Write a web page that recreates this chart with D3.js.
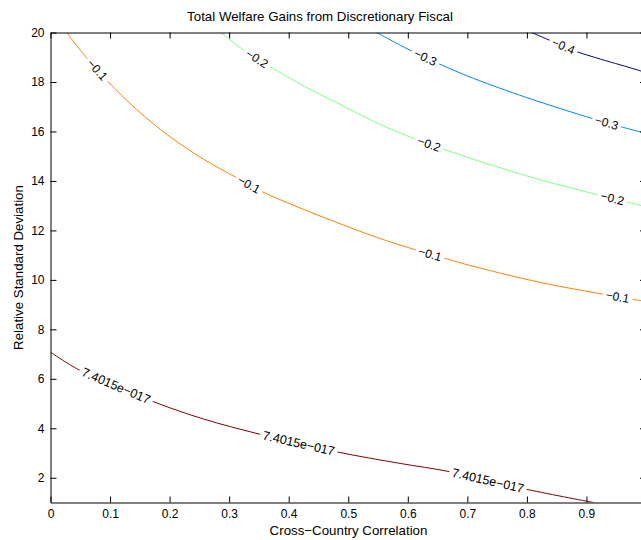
<!DOCTYPE html>
<html>
<head>
<meta charset="utf-8">
<script src="https://cdn.jsdelivr.net/npm/d3@7"></script>
<style>
  body { margin: 0; background: #fff; }
  svg { display: block; font-family: "Liberation Sans", Arial, Helvetica, sans-serif; }
  .axis text { font-size: 12px; fill: #000; }
  .axis path, .axis line { stroke: #000; }
</style>
</head>
<body>
<div id="chart"></div>
<script>
const w = 641;
const h = 540;

const xTicks = [0, 0.1, 0.2, 0.3, 0.4, 0.5, 0.6, 0.7, 0.8, 0.9, 1];
const yTicks = [2, 4, 6, 8, 10, 12, 14, 16, 18, 20];

const levels = [0, -0.1, -0.2, -0.3, -0.4];
const levelText = ['7.4015e\u2212017', '\u22120.1', '\u22120.2', '\u22120.3', '\u22120.4'];

// contour lines, [correlation, relative std dev]
const contour0 = [[0, 7.08], [0.048, 6.36], [0.1724, 5.08], [0.2563, 4.38], [0.3516, 3.76],
  [0.4821, 3.04], [0.5871, 2.58], [0.6694, 2.25], [0.7999, 1.53], [0.9118, 1.0]];
const contour1 = [[0.0269, 20.0], [0.0605, 18.98], [0.0968, 18.01], [0.1445, 16.89], [0.2004, 15.79],
  [0.2563, 14.89], [0.3124, 14.13], [0.3544, 13.58], [0.4188, 12.91], [0.486, 12.27],
  [0.5476, 11.72], [0.6148, 11.2], [0.6595, 10.89], [0.7099, 10.55], [0.8219, 9.9],
  [0.9283, 9.42], [0.976, 9.22], [1.0, 9.13]];
const contour2 = [[0.2861, 20.0], [0.3264, 19.25], [0.3672, 18.64], [0.43, 17.78], [0.486, 17.1],
  [0.5476, 16.35], [0.6148, 15.67], [0.6568, 15.31], [0.738, 14.66], [0.8219, 14.05],
  [0.9227, 13.42], [0.9647, 13.17], [1.0, 12.96]];
const contour3 = [[0.5476, 20.0], [0.6064, 19.25], [0.6528, 18.73], [0.7099, 18.15], [0.7996, 17.37],
  [0.9115, 16.51], [0.9563, 16.2], [1.0, 15.92]];
const contour4 = [[0.808, 20.0], [0.8416, 19.65], [0.8807, 19.25], [0.9916, 18.44], [1.0, 18.36]];

// where the in-line labels sit (correlation value)
const labels0 = [0.1102, 0.4169, 0.7346];
const labels1 = [0.0787, 0.3334, 0.6372, 0.9522];
const labels2 = [0.3468, 0.6358, 0.9437];
const labels3 = [0.6296, 0.9339];
const labels4 = [0.8612];

const contours = [contour0, contour1, contour2, contour3, contour4];
const labelSpots = [labels0, labels1, labels2, labels3, labels4];

const color = d3.scaleOrdinal()
  .domain(levels)
  .range(['#800000', '#ff8000', '#80ff80', '#0080ff', '#000088']);

const pLeft = 50.5, pRight = 646, pTop = 32.5, pBottom = 502.5;

const xScale = d3.scaleLinear().domain([0, 1]).range([pLeft, pRight]);
const yScale = d3.scaleLinear().domain([1, 20]).range([pBottom, pTop]);

const svg = d3.select('#chart').append('svg').attr('width', w).attr('height', h);

svg.append('defs').append('clipPath').attr('id', 'plot')
  .append('rect').attr('x', pLeft).attr('y', pTop).attr('width', pRight - pLeft).attr('height', pBottom - pTop);

const line = d3.line()
  .x(d => xScale(d[0]))
  .y(d => yScale(d[1]))
  .curve(d3.curveCatmullRom.alpha(0.5));

const plot = svg.append('g').attr('clip-path', 'url(#plot)');

contours.forEach((c, i) => {
  plot.append('path')
    .attr('d', line(c))
    .attr('fill', 'none')
    .attr('stroke', color(levels[i]))
    .attr('stroke-width', 1);
});

// labels: place on the chord between the two points around each spot
contours.forEach((c, i) => {
  const px = c.map(d => [xScale(d[0]), yScale(d[1])]);
  labelSpots[i].forEach(lx => {
    const sx = xScale(lx);
    let k = 0;
    while (k < px.length - 2 && px[k + 1][0] < sx) k++;
    const a = px[k], b = px[k + 1];
    const t = (sx - a[0]) / (b[0] - a[0]);
    const sy = a[1] + t * (b[1] - a[1]);
    const ang = Math.atan2(b[1] - a[1], b[0] - a[0]) * 180 / Math.PI;

    const g = plot.append('g').attr('transform', `translate(${sx},${sy}) rotate(${ang})`);
    const txt = g.append('text')
      .attr('text-anchor', 'middle')
      .attr('dy', '0.35em')
      .style('font-size', i === 0 ? '12.5px' : '12px')
      .text(levelText[i]);
    const bb = txt.node().getBBox();
    g.insert('rect', 'text')
      .attr('x', bb.x - 3).attr('y', -4)
      .attr('width', bb.width + 6).attr('height', 8)
      .attr('fill', '#fff');
  });
});

// axes, ticks pointing inwards on all four sides
const fmt = d => d === 0 ? '0' : d === 1 ? '' : d3.format('.1f')(d);

svg.append('g').attr('class', 'axis')
  .attr('transform', `translate(0,${pBottom})`)
  .call(d3.axisBottom(xScale).tickValues(xTicks).tickSize(-6).tickSizeOuter(0).tickPadding(7).tickFormat(fmt));

svg.append('g').attr('class', 'axis')
  .attr('transform', `translate(0,${pTop})`)
  .call(d3.axisTop(xScale).tickValues(xTicks).tickSize(-6).tickSizeOuter(0).tickFormat(''));

svg.append('g').attr('class', 'axis')
  .attr('transform', `translate(${pLeft},0)`)
  .call(d3.axisLeft(yScale).tickValues(yTicks).tickSize(-6).tickSizeOuter(0).tickPadding(6));

svg.append('g').attr('class', 'axis')
  .attr('transform', `translate(${pRight},0)`)
  .call(d3.axisRight(yScale).tickValues(yTicks).tickSize(-6).tickSizeOuter(0).tickFormat(''));

svg.append('text')
  .attr('x', 320).attr('y', 20.5)
  .attr('text-anchor', 'middle')
  .style('font-size', '13.3px')
  .text('Total Welfare Gains from Discretionary Fiscal');

svg.append('text')
  .attr('x', 348.5).attr('y', 534.5)
  .attr('text-anchor', 'middle')
  .style('font-size', '13.3px')
  .text('Cross\u2212Country Correlation');

svg.append('text')
  .attr('transform', `translate(23,${(pTop + pBottom) / 2}) rotate(-90)`)
  .attr('text-anchor', 'middle')
  .style('font-size', '13.3px')
  .text('Relative Standard Deviation');
</script>
</body>
</html>
